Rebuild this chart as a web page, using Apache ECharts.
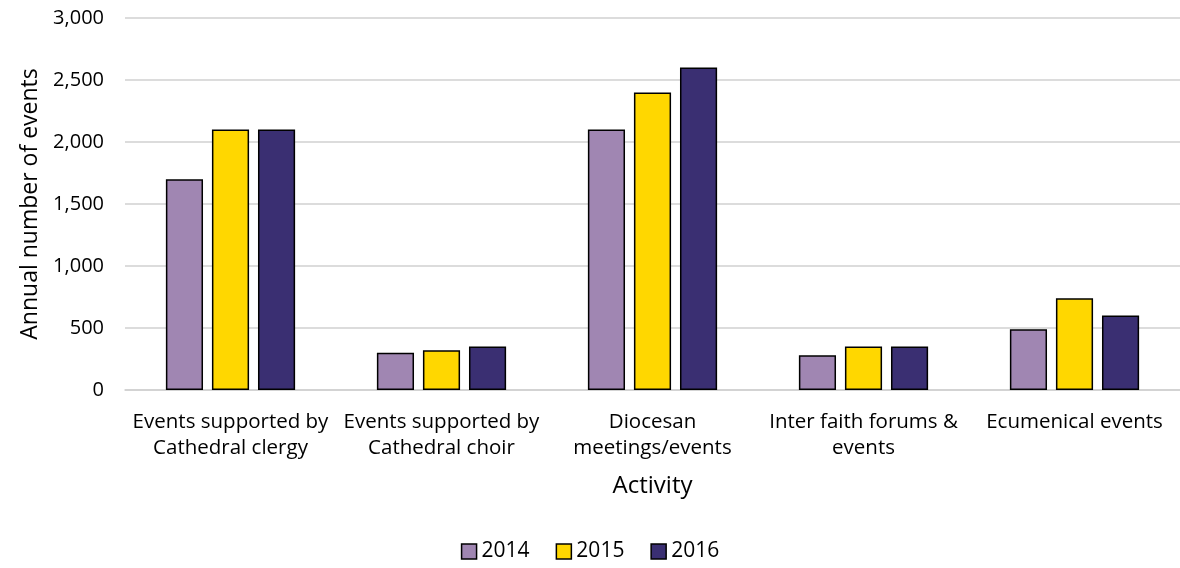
<!DOCTYPE html>
<html><head><meta charset="utf-8">
<script src="https://cdn.jsdelivr.net/npm/echarts@6/dist/echarts.min.js"></script>
<style>html,body{margin:0;padding:0;background:#fff}#c{width:1180px;height:568px}</style>
</head><body><div id="c"></div>
<script>
const categories = ["Events supported by\nCathedral clergy","Events supported by\nCathedral choir","Diocesan\nmeetings/events","Inter faith forums &\nevents","Ecumenical events"];
const years = ["2014","2015","2016"];
const v2014 = [1700, 300, 2100, 280, 490];
const v2015 = [2100, 320, 2400, 350, 740];
const v2016 = [2100, 350, 2600, 350, 600];
const yTicks = [0, 500, 1000, 1500, 2000, 2500, 3000];
const colors = ["#A086B2", "#FFD700", "#3A2F72"];
const FONT = "Open Sans";
const chart = echarts.init(document.getElementById('c'));
const mk = (name, data, i) => ({
  name, type: 'bar', data,
  barWidth: '17.6%', barGap: '24%',
  itemStyle: { color: colors[i], borderColor: '#000', borderWidth: 1.5 }
});
chart.setOption({
  animation: false,
  textStyle: { fontFamily: FONT, color: '#000' },
  grid: { left: 125, right: -8, top: 18, bottom: 178, containLabel: false },
  legend: {
    bottom: 1, left: 'center', itemWidth: 15, itemHeight: 15, itemGap: 26,
    icon: 'rect',
    textStyle: { fontFamily: FONT, fontSize: 21, color: '#000' },
    data: years.map((y, i) => ({ name: y, itemStyle: { color: colors[i], borderColor: '#000', borderWidth: 1.5 } }))
  },
  xAxis: {
    type: 'category', data: categories,
    name: 'Activity', nameLocation: 'middle', nameGap: 84,
    nameTextStyle: { fontFamily: FONT, fontSize: 24, color: '#000' },
    axisLine: { show: true, lineStyle: { color: '#d0d0d0', width: 1.5 } },
    axisTick: { show: false },
    axisLabel: { fontFamily: FONT, fontSize: 20.5, color: '#000', lineHeight: 26, margin: 19, interval: 0 }
  },
  yAxis: {
    type: 'value', min: yTicks[0], max: yTicks[yTicks.length-1], interval: 500,
    name: 'Annual number of events', nameLocation: 'middle', nameGap: 83,
    nameTextStyle: { fontFamily: FONT, fontSize: 23, color: '#000' },
    axisLine: { show: false }, axisTick: { show: false },
    splitLine: { lineStyle: { color: '#d0d0d0', width: 1.5 } },
    axisLabel: { fontFamily: FONT, fontSize: 20, color: '#000', margin: 21,
      formatter: v => v.toLocaleString('en-US') }
  },
  series: [mk(years[0], v2014, 0), mk(years[1], v2015, 1), mk(years[2], v2016, 2)]
});
</script></body></html>
